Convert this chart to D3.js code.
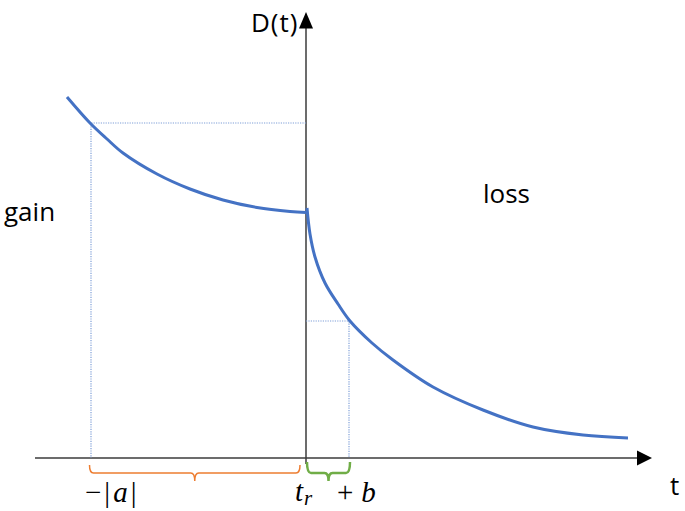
<!DOCTYPE html>
<html>
<head>
<meta charset="utf-8">
<script src="https://cdn.jsdelivr.net/npm/d3@7"></script>
<style>
  html, body { margin: 0; padding: 0; background: #fff; }
  svg { display: block; }
  .lbl { font-family: "Open Sans", sans-serif; fill: #000; }
  .math { font-family: "Liberation Serif", serif; fill: #000; }
</style>
</head>
<body>
<svg id="chart"></svg>
<script>
// gain side (before reference point t_r)
const gainT = [-23.9, -21.6, -19.9, -18.3, -14.9, -11.6, -8.3, -4.9, -1.6, 0];
const gainD = [36.1, 33.5, 31.9, 30.5, 28.4, 26.9, 25.8, 25.05, 24.65, 24.55];
// loss side (after t_r)
const lossT = [0.1, 0.4, 0.9, 1.9, 3.2, 4.4, 6.6, 8.7, 12.7, 17.7, 22.7, 27.7, 32.2];
const lossD = [25.0, 22.4, 20.1, 17.5, 15.4, 13.7, 11.5, 9.8, 7.1, 4.8, 3.1, 2.3, 2.0];
// guide marks: -|a| and +b
const markT = [-21.5, 4.3];
const markD = [33.5, 13.7];
const regionLabels = ["gain", "loss"];

document.addEventListener('DOMContentLoaded', () => {
    const width = 685;
    const height = 511;

    const svg = d3.select('#chart')
        .attr('width', width)
        .attr('height', height);

    const x = d3.scaleLinear().domain([-27.1, 34.6]).range([35, 652]);
    const y = d3.scaleLinear().domain([0, 44.6]).range([458, 12]);

    const axisColor = '#3b3b3b';
    const x0 = x(0), y0 = y(0);

    // horizontal axis
    svg.append('line')
        .attr('x1', x.range()[0]).attr('x2', x.range()[1] - 14)
        .attr('y1', y0).attr('y2', y0)
        .attr('stroke', axisColor).attr('stroke-width', 1.5);
    svg.append('path')
        .attr('d', `M${x.range()[1]},${y0} L${x.range()[1] - 15},${y0 - 7.5} L${x.range()[1] - 15},${y0 + 7.5}Z`)
        .attr('fill', '#000');

    // vertical axis
    svg.append('line')
        .attr('x1', x0).attr('x2', x0)
        .attr('y1', y0 + 6).attr('y2', y.range()[1] + 15)
        .attr('stroke', axisColor).attr('stroke-width', 1.5);
    svg.append('path')
        .attr('d', `M${x0},${y.range()[1]} L${x0 - 7},${y.range()[1] + 16.5} L${x0 + 7},${y.range()[1] + 16.5}Z`)
        .attr('fill', '#000');

    // dotted guide lines
    const guide = '#7f9fd8';
    markT.forEach((t, i) => {
        svg.append('polyline')
            .attr('points', `${x0},${y(markD[i])} ${x(t)},${y(markD[i])} ${x(t)},${y0}`)
            .attr('fill', 'none')
            .attr('stroke', guide)
            .attr('stroke-width', 1.2)
            .attr('stroke-dasharray', '1.2,1.2');
    });

    // curves
    const line = d3.line()
        .x(d => x(d[0]))
        .y(d => y(d[1]))
        .curve(d3.curveCatmullRom.alpha(0.5));

    [[gainT, gainD], [lossT, lossD]].forEach(([ts, ds]) => {
        svg.append('path')
            .datum(ts.map((t, i) => [t, ds[i]]))
            .attr('d', line)
            .attr('fill', 'none')
            .attr('stroke', '#4472c4')
            .attr('stroke-width', 3);
    });

    // braces under the axis
    const brace = (xa, xb, yTop, yLine, yTip, r) => {
        const xm = (xa + xb) / 2;
        return `M${xa},${yTop} Q${xa},${yLine} ${xa + r},${yLine} L${xm - r},${yLine}` +
            ` Q${xm},${yLine} ${xm},${yTip} Q${xm},${yLine} ${xm + r},${yLine}` +
            ` L${xb - r},${yLine} Q${xb},${yLine} ${xb},${yTop}`;
    };
    svg.append('path')
        .attr('d', brace(x(markT[0]) - 1.5, x0 - 6, y0 + 7, y0 + 15, y0 + 23, 4))
        .attr('fill', 'none').attr('stroke', '#ed7d31').attr('stroke-width', 1.5);
    svg.append('path')
        .attr('d', brace(x0 + 1, x(markT[1]) + 1, y0 + 4, y0 + 15, y0 + 23, 4))
        .attr('fill', 'none').attr('stroke', '#70ad47').attr('stroke-width', 2.5);

    // text
    svg.append('text').attr('class', 'lbl')
        .attr('x', x0 - 55).attr('y', 32)
        .attr('font-size', 26).attr('letter-spacing', 1)
        .text('D(t)');
    svg.append('text').attr('class', 'lbl')
        .attr('x', 670).attr('y', 495)
        .attr('font-size', 26)
        .text('t');
    svg.append('text').attr('class', 'lbl')
        .attr('x', 4).attr('y', 221)
        .attr('font-size', 26)
        .text(regionLabels[0]);
    svg.append('text').attr('class', 'lbl')
        .attr('x', 483).attr('y', 203)
        .attr('font-size', 26)
        .text(regionLabels[1]);

    const aLbl = svg.append('text').attr('class', 'math')
        .attr('x', x(markT[0]) - 6).attr('y', 502)
        .attr('font-size', 29);
    aLbl.append('tspan').text('−');
    aLbl.append('tspan').attr('dx', 3).text('|');
    aLbl.append('tspan').attr('font-style', 'italic').attr('dx', 3).text('a');
    aLbl.append('tspan').attr('dx', 3).text('|');

    const tLbl = svg.append('text').attr('class', 'math')
        .attr('x', x0 - 11).attr('y', 501)
        .attr('font-size', 29).attr('font-style', 'italic');
    tLbl.append('tspan').text('t');
    tLbl.append('tspan').attr('font-size', 21).attr('dx', 1).attr('dy', 4).text('r');

    const bLbl = svg.append('text').attr('class', 'math')
        .attr('x', x(markT[1]) - 12).attr('y', 502)
        .attr('font-size', 29);
    bLbl.append('tspan').text('+');
    bLbl.append('tspan').attr('font-style', 'italic').attr('dx', 8).text('b');
});
</script>
</body>
</html>
